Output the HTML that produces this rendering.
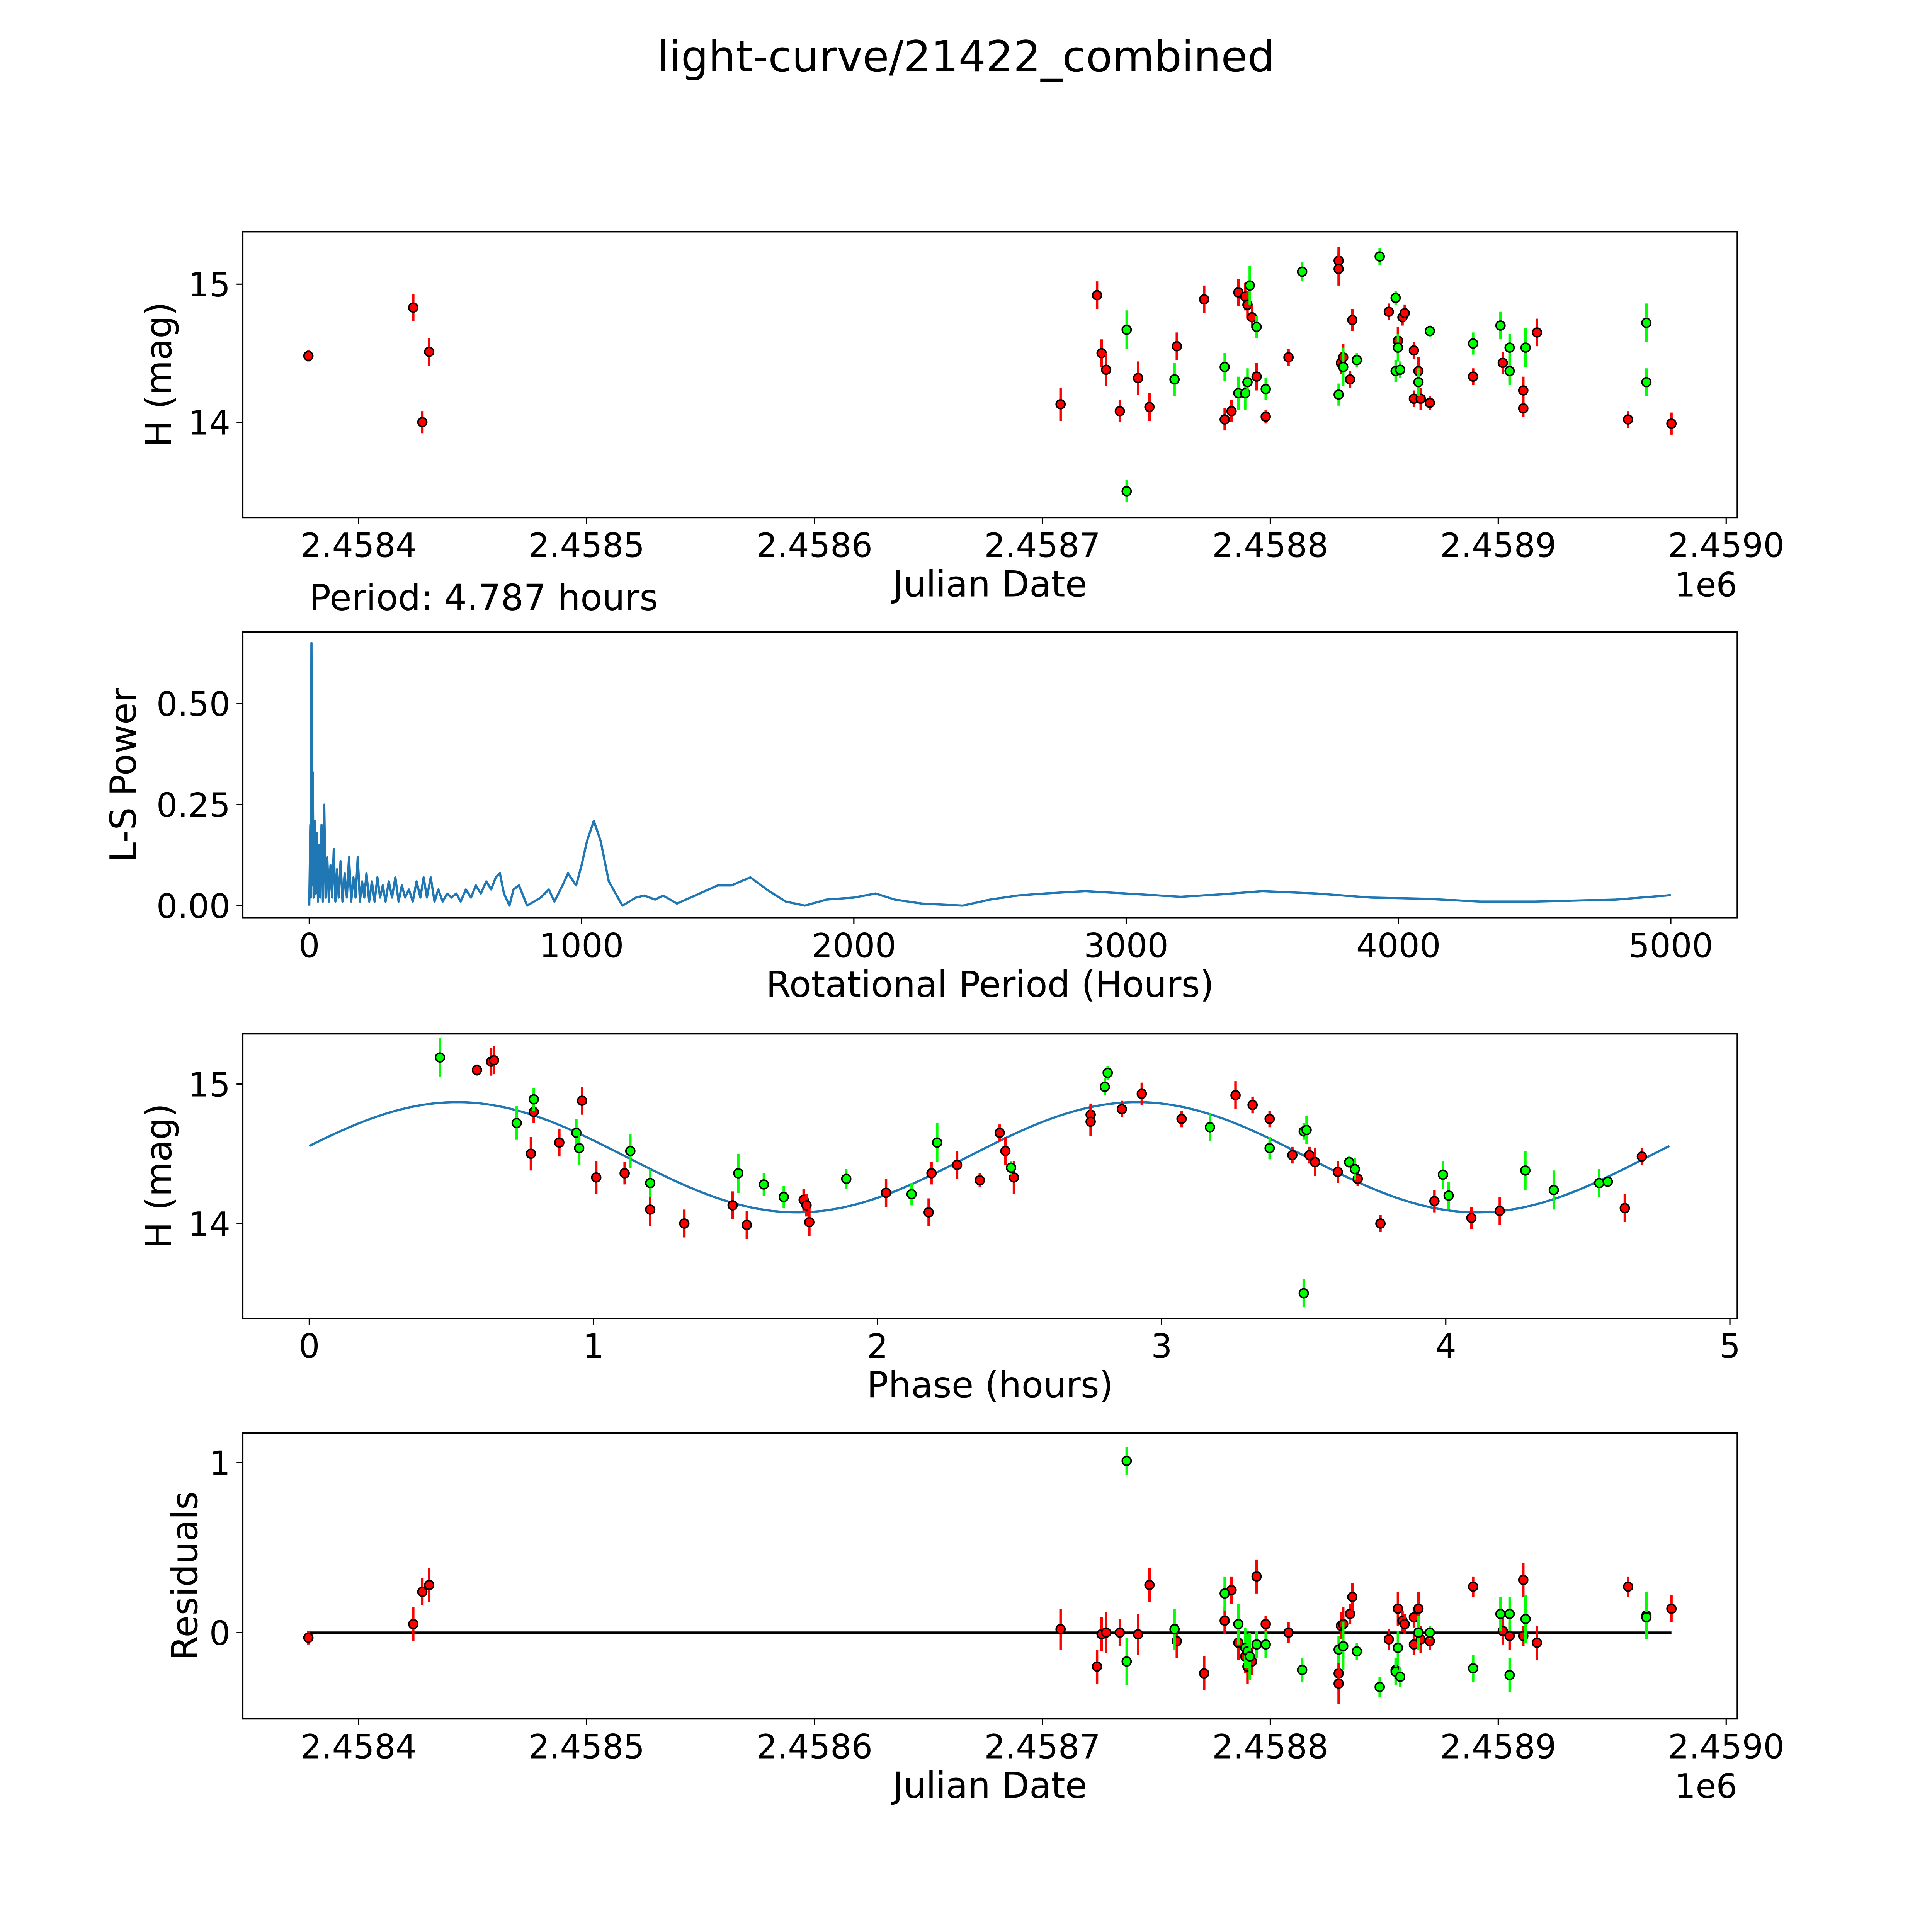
<!DOCTYPE html>
<html><head><meta charset="utf-8"><style>html,body{margin:0;padding:0;background:#fff;overflow:hidden;width:100%;height:100%}svg{display:block;width:100vw;height:100vh}text{font-family:"DejaVu Sans","Liberation Sans",sans-serif;fill:#000}</style></head>
<body>
<svg id="fig" viewBox="0 0 1568 1568" preserveAspectRatio="xMidYMid meet" xmlns="http://www.w3.org/2000/svg">
<text x="784" y="58" font-size="35" text-anchor="middle">light-curve/21422_combined</text>
</svg>
<script>
// Panel 1 / 4 data: JD offsets (days from 2458000), magnitudes, residuals
const redJD=[378,424,431,428,708,724,726,728,734,742,747,759,771,780,783,786,789,790,792,794,798,808,830,830,831,832,835,836,852,856,858,859,863,863,865,866,870,889,902,905,911,911,917,957,976];
const redMag=[14.48,14.83,14.51,14.00,14.13,14.92,14.50,14.38,14.08,14.32,14.11,14.55,14.89,14.02,14.08,14.94,14.91,14.85,14.76,14.33,14.04,14.47,15.17,15.11,14.43,14.47,14.31,14.74,14.80,14.59,14.76,14.79,14.52,14.17,14.37,14.17,14.14,14.33,14.43,14.37,14.23,14.10,14.65,14.02,13.99];
const redErr=[0.04,0.1,0.1,0.08,0.12,0.1,0.1,0.12,0.08,0.12,0.1,0.1,0.1,0.08,0.08,0.1,0.1,0.1,0.08,0.1,0.05,0.06,0.1,0.12,0.08,0.1,0.06,0.08,0.06,0.1,0.06,0.06,0.06,0.06,0.1,0.08,0.05,0.06,0.08,0.08,0.1,0.06,0.1,0.06,0.08];
const redRes=[-0.03,0.05,0.28,0.24,0.02,-0.20,-0.01,0,0,-0.01,0.28,-0.05,-0.24,0.07,0.25,-0.06,-0.14,-0.20,-0.17,0.33,0.05,0,-0.24,-0.30,0.04,0.05,0.11,0.21,-0.04,0.14,0.07,0.05,0.09,-0.07,0.14,-0.04,-0.05,0.27,0.01,-0.02,0.31,-0.02,-0.06,0.27,0.14];
const grnJD=[737,737,758,780,786,789,790,791,794,798,814,830,832,838,848,855,856,855,857,865,870,889,901,905,905,912,965,965];
const grnMag=[14.67,13.50,14.31,14.40,14.21,14.21,14.29,14.99,14.69,14.24,15.09,14.20,14.40,14.45,15.20,14.90,14.54,14.37,14.38,14.29,14.66,14.57,14.70,14.54,14.37,14.54,14.72,14.29];
const grnErr=[0.14,0.08,0.12,0.1,0.12,0.12,0.1,0.14,0.08,0.08,0.07,0.08,0.14,0.05,0.06,0.05,0.1,0.08,0.06,0.1,0.04,0.08,0.1,0.1,0.1,0.14,0.14,0.1];
const grnRes=[-0.17,1.01,0.02,0.23,0.05,-0.09,-0.11,-0.14,-0.07,-0.07,-0.22,-0.10,-0.08,-0.11,-0.32,-0.22,-0.09,-0.23,-0.26,0,0,-0.21,0.11,-0.25,0.11,0.08,0.10,0.09];
// Panel 3 phase data
const redPh=[0.59,0.64,0.65,0.79,0.78,0.88,0.96,1.01,1.11,1.20,1.32,1.49,1.54,1.74,1.75,1.76,2.03,2.18,2.19,2.28,2.36,2.43,2.45,2.48,2.75,2.75,2.86,2.93,3.07,3.26,3.32,3.38,3.46,3.52,3.54,3.62,3.69,3.77,3.96,4.09,4.19,4.69,4.63];
const redPhMag=[15.10,15.16,15.17,14.80,14.50,14.58,14.88,14.33,14.36,14.10,14.00,14.13,13.99,14.17,14.13,14.01,14.22,14.08,14.36,14.42,14.31,14.65,14.52,14.33,14.78,14.73,14.82,14.93,14.75,14.92,14.85,14.75,14.49,14.49,14.44,14.37,14.32,14.00,14.16,14.04,14.09,14.48,14.11];
const grnPh=[0.46,0.79,0.73,0.94,0.95,1.13,1.20,1.51,1.60,1.67,1.89,2.12,2.21,2.47,2.80,2.81,3.17,3.38,3.50,3.51,3.66,3.68,3.50,3.99,4.01,4.28,4.38,4.54,4.57];
const grnPhMag=[15.19,14.89,14.72,14.65,14.54,14.52,14.29,14.36,14.28,14.19,14.32,14.21,14.58,14.40,14.98,15.08,14.69,14.54,14.66,14.67,14.44,14.39,13.50,14.35,14.20,14.38,14.24,14.29,14.30];
// Fit model parameters
const fitMean=14.475, fitAmp=0.395, fitPeak=0.52, period=4.787;
// Panel 2 periodogram
const lsPeriod=[0,4,6,8,10,13,16,20,24,28,32,36,40,45,50,55,60,66,72,78,84,90,96,102,108,115,122,130,138,146,154,162,170,178,186,194,202,210,220,230,240,250,260,270,280,292,304,316,328,340,352,366,380,394,408,420,432,446,460,474,490,506,522,540,556,575,594,612,630,650,668,685,700,715,735,750,770,800,850,880,900,930,950,980,1000,1020,1045,1070,1100,1150,1200,1230,1270,1300,1350,1400,1450,1500,1550,1620,1680,1750,1820,1900,2000,2080,2150,2250,2400,2500,2600,2700,2850,3000,3200,3350,3500,3700,3900,4100,4300,4500,4800,5000];
const lsPower=[0,0.20,0.02,0.65,0.05,0.33,0.02,0.21,0.03,0.18,0.01,0.15,0.02,0.20,0.01,0.25,0.02,0.12,0.01,0.10,0.02,0.14,0.01,0.09,0.02,0.11,0.01,0.08,0.02,0.12,0.01,0.07,0.02,0.12,0.01,0.06,0.02,0.08,0.01,0.06,0.01,0.07,0.02,0.05,0.01,0.06,0.02,0.07,0.01,0.05,0.02,0.04,0.01,0.06,0.02,0.07,0.02,0.07,0.01,0.04,0.01,0.03,0.02,0.03,0.01,0.04,0.02,0.05,0.03,0.06,0.04,0.07,0.08,0.03,0.0,0.04,0.05,0.0,0.02,0.04,0.01,0.05,0.08,0.05,0.10,0.16,0.21,0.16,0.06,0.0,0.02,0.025,0.015,0.025,0.005,0.02,0.035,0.05,0.05,0.07,0.04,0.01,0.0,0.015,0.02,0.03,0.015,0.005,0.0,0.015,0.025,0.03,0.036,0.03,0.022,0.028,0.036,0.03,0.02,0.017,0.01,0.01,0.015,0.026];

const svg=document.getElementById('fig');
const NS='http://www.w3.org/2000/svg';
function mk(tag,attrs,parent){const e=document.createElementNS(NS,tag);for(const k in attrs)e.setAttribute(k,attrs[k]);(parent||svg).appendChild(e);return e;}
function lin(d0,d1,p0,p1){return v=>p0+(v-d0)*(p1-p0)/(d1-d0);}
const L=197,R=1410;

function axes(name,top,bot,xs,ys,xt,xtl,yt,ytl,xlabel,ylabel,ylx){
  const g=mk('g',{});
  
  
  xt.forEach((v,i)=>{const x=xs(v);mk('line',{x1:x,x2:x,y1:bot,y2:bot+5,stroke:'#000','stroke-width':1},g);
    const t=mk('text',{x:x,y:bot+32,'font-size':27,'text-anchor':'middle'},g);t.textContent=xtl[i];
    
    });
  yt.forEach((v,i)=>{const y=ys(v);mk('line',{x1:L-5,x2:L,y1:y,y2:y,stroke:'#000','stroke-width':1},g);
    const t=mk('text',{x:L-10,y:y+10,'font-size':27,'text-anchor':'end'},g);t.textContent=ytl[i];
    
    });
  const xl=mk('text',{x:(L+R)/2,y:bot+64,'font-size':29,'text-anchor':'middle'},g);xl.textContent=xlabel;
  
  
  const yl=mk('text',{x:0,y:0,'font-size':29,'text-anchor':'middle',transform:`translate(${ylx},${(top+bot)/2}) rotate(-90)`},g);yl.textContent=ylabel;
  
  
  return g;
}
function frame(top,bot){const r=mk('rect',{x:L,y:top,width:R-L,height:bot-top,fill:'none',stroke:'#000','stroke-width':1.2});
  
  }
function pts(g,xs,ys,X,Y,E,col){
  X.forEach((v,i)=>{const x=xs(v),y=ys(Y[i]);
    const l=mk('line',{x1:x,x2:x,y1:ys(Y[i]-E[i]),y2:ys(Y[i]+E[i]),stroke:col,'stroke-width':2},g);
    
    
    const c=mk('circle',{cx:x,cy:y,r:3.6,fill:col,stroke:'#000','stroke-width':1.2},g);
    
    });
}
const jdTicks=[400,500,600,700,800,900,1000];
const jdLabels=['2.4584','2.4585','2.4586','2.4587','2.4588','2.4589','2.4590'];

// Panel 1
{const top=188,bot=420;const xs=lin(349.2,1004.9,L,R),ys=lin(15.38,13.31,top,bot);
 const g=axes('light-curve-panel',top,bot,xs,ys,jdTicks,jdLabels,[14,15],['14','15'],'Julian Date','H (mag)',139);
 pts(g,xs,ys,redJD,redMag,redErr,'#ff0000');pts(g,xs,ys,grnJD,grnMag,grnErr,'#00ff00');
 const t=mk('text',{x:1410,y:484,'font-size':27,'text-anchor':'end'});t.textContent='1e6';
 
 
 frame(top,bot);}
// Panel 2
{const top=513,bot=745;const xs=lin(0,5000,251,1356),ys=lin(0,0.5,735,571);
 const g=axes('periodogram-panel',top,bot,xs,ys,[0,1000,2000,3000,4000,5000],['0','1000','2000','3000','4000','5000'],[0,0.25,0.5],['0.00','0.25','0.50'],'Rotational Period (Hours)','L-S Power',110);
 const d=lsPeriod.map((p,i)=>(i?'L':'M')+xs(p).toFixed(2)+','+ys(lsPower[i]).toFixed(2)).join(' ');
 const p=mk('path',{d:d,fill:'none',stroke:'#1f77b4','stroke-width':1.8,'stroke-linejoin':'round'},g);
 
 
 const t=mk('text',{x:251,y:495,'font-size':29});t.textContent='Period: 4.787 hours';
 
 
 frame(top,bot);}
// Panel 3
{const top=839,bot=1070;const xs=lin(0,5,251,1404),ys=lin(15.36,13.32,top,bot);
 const g=axes('phase-folded-panel',top,bot,xs,ys,[0,1,2,3,4,5],['0','1','2','3','4','5'],[14,15],['14','15'],'Phase (hours)','H (mag)',139);
 let d='';for(let i=0;i<=200;i++){const ph=period*i/200;const m=fitMean+fitAmp*Math.cos(2*Math.PI*2*(ph-fitPeak)/period);d+=(i?'L':'M')+xs(ph).toFixed(2)+','+ys(m).toFixed(2);}
 const p=mk('path',{d:d,fill:'none',stroke:'#1f77b4','stroke-width':1.8},g);
 
 
 pts(g,xs,ys,redPh,redPhMag,redErr,'#ff0000');pts(g,xs,ys,grnPh,grnPhMag,grnErr,'#00ff00');
 frame(top,bot);}
// Panel 4
{const top=1163,bot=1395;const xs=lin(349.2,1004.9,L,R),ys=lin(0,1,1325,1187);
 const g=axes('residuals-panel',top,bot,xs,ys,jdTicks,jdLabels,[0,1],['0','1'],'Julian Date','Residuals',160);
 const z=mk('line',{x1:xs(378),x2:xs(976),y1:ys(0),y2:ys(0),stroke:'#000','stroke-width':1.8},g);
 
 
 pts(g,xs,ys,redJD,redRes,redErr,'#ff0000');pts(g,xs,ys,grnJD,grnRes,grnErr,'#00ff00');
 const t=mk('text',{x:1410,y:1459,'font-size':27,'text-anchor':'end'});t.textContent='1e6';
 
 
 frame(top,bot);}
</script>
</body></html>
